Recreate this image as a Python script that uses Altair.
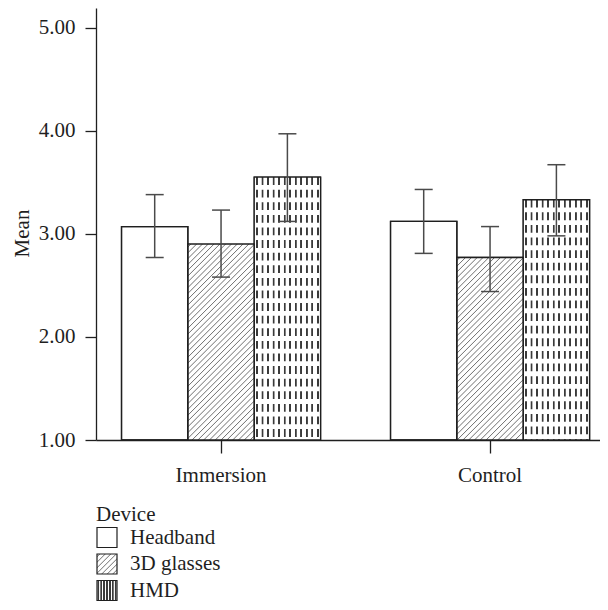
import json
import math

import altair as alt
import pandas as pd

# ---------------- data ----------------
groups = ["Immersion", "Control"]
devices = ["Headband", "3D glasses", "HMD"]
mean_immersion = [3.07, 2.90, 3.55]
mean_control = [3.12, 2.77, 3.33]
lower_immersion = [2.77, 2.58, 3.12]
lower_control = [2.81, 2.44, 2.98]
upper_immersion = [3.38, 3.23, 3.97]
upper_control = [3.43, 3.07, 3.67]
y_ticks = [1, 2, 3, 4, 5]
y_min = 1
y_max = 5.19

rows = []
for g, ms, lo, hi in [
    ("Immersion", mean_immersion, lower_immersion, upper_immersion),
    ("Control", mean_control, lower_control, upper_control),
]:
    for d, m, l, u in zip(devices, ms, lo, hi):
        rows.append({"group": g, "device": d, "mean": m, "lower": l, "upper": u})
df = pd.DataFrame(rows)

# ---------------- style / layout ----------------
FONT = "Liberation Serif"
FS = 21
INK = "#1f1f1f"
ERR = "#4a4a4a"
PLOT_W = 504
PLOT_H = 432
PAD_INNER = 0.26
PAD_OUTER = 0.0668
ALIGN = 0.71

step = PLOT_W / (len(groups) - PAD_INNER + 2 * PAD_OUTER)
BAR_W = step * (1 - PAD_INNER) / len(devices)


def px_height(v):
    return (v - y_min) / (y_max - y_min) * PLOT_H


def diag_gradient(w, h, period=5.8, ink="#6e6e6e"):
    """'/' hatching as a linear gradient in bounding-box units."""
    span = w + h
    n = int(math.floor(span / period))
    half = 1.0 / span
    stops = []
    for i in range(n):
        c = (i + 0.5) * period / span
        stops += [(max(0.0, c - half), "white"), (c, ink), (min(1.0, c + half), "white")]
    k = span / (w * w + h * h)
    return {
        "gradient": "linear",
        "x1": 0, "y1": 0, "x2": round(w * k, 5), "y2": round(h * k, 5),
        "stops": [{"offset": round(o, 5), "color": col} for o, col in stops],
    }


def column_gradient(w, n, dark_w, ink="#3a3a3a"):
    """vertical stripes as a horizontal linear gradient."""
    a = dark_w / 2 / w
    e = 0.45 / w
    stops = []
    for i in range(n):
        c = (i + 0.5) / n
        stops += [(c - a - e, "white"), (c - a, ink), (c + a, ink), (c + a + e, "white")]
    return {
        "gradient": "linear",
        "x1": 0, "y1": 0, "x2": 1, "y2": 0,
        "stops": [{"offset": round(min(1, max(0, o)), 5), "color": col} for o, col in stops],
    }


legend_range = [
    "white",
    {"expr": json.dumps(diag_gradient(20, 20, period=5.5))},
    {"expr": json.dumps(column_gradient(20, 7, 1.3))},
]

x_enc = alt.X(
    "group:N",
    sort=groups,
    scale=alt.Scale(domain=groups, paddingInner=PAD_INNER, paddingOuter=PAD_OUTER, align=ALIGN),
    axis=alt.Axis(title=None, labelAngle=0, tickSize=13, labelPadding=11.5,
                  domainColor=INK, tickColor=INK, domainWidth=1.3, tickWidth=1.3),
)
xo_enc = alt.XOffset("device:N", sort=devices,
                     scale=alt.Scale(domain=devices, paddingInner=0, paddingOuter=0))
y_main = alt.Y(
    "mean:Q",
    stack=None,
    scale=alt.Scale(domain=[y_min, y_max], nice=False, zero=False),
    axis=alt.Axis(title="Mean", values=y_ticks, format=".2f", grid=False, tickSize=11,
                  labelPadding=10, titlePadding=6, titleY=225,
                  domainColor=INK, tickColor=INK, domainWidth=1.3, tickWidth=1.3),
)

base = alt.Chart(df).encode(x=x_enc, xOffset=xo_enc)

legend_layer = base.mark_bar(stroke=INK, strokeWidth=1.3).encode(
    y=y_main,
    y2=alt.datum(1),
    fill=alt.Fill(
        "device:N",
        sort=devices,
        scale=alt.Scale(domain=devices, range=legend_range),
        legend=alt.Legend(
            title="Device", orient="none", legendX=0, legendY=496, direction="vertical",
            symbolType="square", symbolSize=400, symbolStrokeColor=INK, symbolStrokeWidth=1.2,
            labelOffset=12, rowPadding=0.5, titlePadding=1.5, padding=0,
        ),
    ),
)

layers = [legend_layer]

# hatched 3D-glasses bars
means_by_group = {"Immersion": mean_immersion, "Control": mean_control}
for g in groups:
    m = means_by_group[g][devices.index("3D glasses")]
    layers.append(
        base.transform_filter(
            f"datum.group === '{g}' && datum.device === '3D glasses'"
        ).mark_bar(fill=diag_gradient(BAR_W, px_height(m)), strokeWidth=0)
        .encode(y="mean:Q", y2=alt.datum(1))
    )

# dashed vertical pattern for HMD bars
hmd = base.transform_filter("datum.device === 'HMD'")
layers.append(
    hmd.mark_bar(fill=column_gradient(BAR_W, 12, 1.4), strokeWidth=0)
    .encode(y="mean:Q", y2=alt.datum(1))
)
layers.append(
    hmd.mark_rule(color="white", strokeWidth=BAR_W - 1.2, strokeDash=[4.8, 7.8], strokeDashOffset=4.8)
    .encode(y="mean:Q", y2=alt.datum(1))
)

# outlines
layers.append(
    base.mark_bar(fillOpacity=0, stroke=INK, strokeWidth=1.3).encode(y="mean:Q", y2=alt.datum(1))
)

# error bars
layers.append(base.mark_rule(color=ERR, strokeWidth=1.5).encode(y="lower:Q", y2="upper:Q"))
layers.append(base.mark_tick(color=ERR, thickness=1.5, size=18, opacity=1).encode(y="lower:Q"))
layers.append(base.mark_tick(color=ERR, thickness=1.5, size=18, opacity=1).encode(y="upper:Q"))

chart = (
    alt.layer(*layers)
    .properties(width=PLOT_W, height=PLOT_H,
                padding={"left": 3, "top": 0, "right": 0, "bottom": 0},
                background="white")
    .configure(font=FONT)
    .configure_view(strokeWidth=0)
    .configure_axis(labelFont=FONT, titleFont=FONT, labelFontSize=FS, titleFontSize=FS,
                    labelColor=INK, titleColor=INK, titleFontWeight="normal")
    .configure_legend(labelFont=FONT, titleFont=FONT, labelFontSize=FS, titleFontSize=FS,
                      labelColor=INK, titleColor=INK, titleFontWeight="normal")
)

chart.save("out.html", embed_options={"renderer": "svg", "actions": False})
